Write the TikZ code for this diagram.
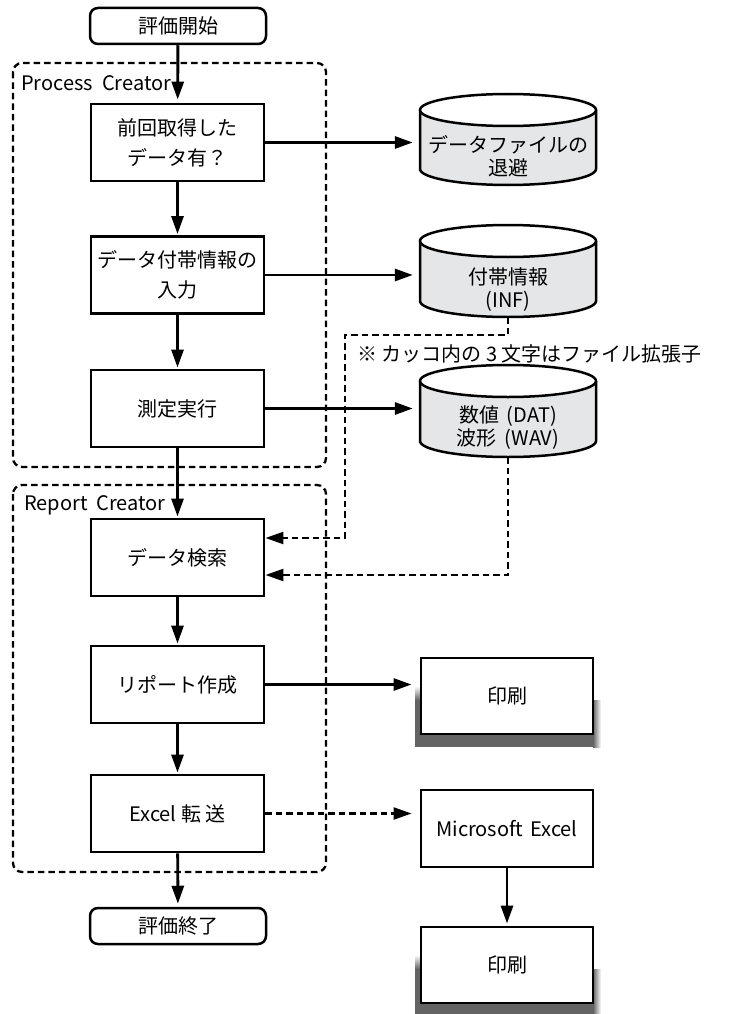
\documentclass[tikz,border=0pt]{standalone}
\usepackage{fontspec}
\setmainfont{Noto Sans CJK JP}
\usetikzlibrary{arrows.meta}
\definecolor{cylgray}{RGB}{229,230,231}
\definecolor{shadowgray}{RGB}{100,100,100}
\begin{document}
\begin{tikzpicture}[x=1pt,y=-1pt,
  txt/.style={font=\fontsize{20}{30}\selectfont, align=center},
  proc/.style={txt, draw, line width=2.9pt, minimum width=173pt, minimum height=77pt, inner sep=0pt},
  term/.style={txt, draw, rounded corners=8pt, line width=2.5pt, minimum width=176pt, minimum height=36pt, inner sep=0pt},
  cyltext/.style={font=\fontsize{20}{23}\selectfont, align=center, minimum width=176pt, inner sep=0pt},
  cylline/.style={line width=2.5pt},
  cont/.style={line width=2.3pt, dash pattern=on 6.5pt off 4pt, rounded corners=9pt},
  arr/.style={line width=2.9pt, -{Triangle[length=18pt,width=12pt]}},
  darr/.style={line width=2.3pt, dash pattern=on 6.5pt off 4pt, -{Triangle[length=18pt,width=12pt]}},
  lbl/.style={font=\fontsize{20}{24}\selectfont, anchor=west, inner sep=0pt}
]
\useasboundingbox (0,0) rectangle (733,1014);
\fill[white] (0,0) rectangle (733,1014);

% containers
\draw[cont] (13,63) rectangle (326,467);
\draw[cont] (13,485) rectangle (326,872);
\node[lbl] (pc) at (21,83) {Process\hspace{0.45em}Creator};
\node[lbl] (rc) at (24,505) {Report\hspace{0.45em}Creator};

% main flow
\node[term] (start) at (178,26) {評価開始};
\node[proc] (b1) at (177.5,142.5) {前回取得した\\データ有？};
\node[proc] (b2) at (177.5,275) {データ付帯情報の\\入力};
\node[proc] (b3) at (177.5,408.5) {測定実行};
\node[proc] (b4) at (177.5,557.5) {データ検索};
\node[proc] (b5) at (177.5,684.5) {リポート作成};
\node[proc] (b6) at (177.5,813.5) {Excel 転 送};
\node[term] (end) at (178,926) {評価終了};

% cylinders
\fill[cylgray] (420,110) -- (420,169) arc[start angle=180,end angle=360,x radius=88pt,y radius=16pt] -- (596,110) -- cycle;
\draw[cylline] (420,110) -- (420,169) arc[start angle=180,end angle=360,x radius=88pt,y radius=16pt] -- (596,110);
\draw[cylline, fill=white] (508,110) ellipse[x radius=88pt, y radius=16pt];
\node[cyltext, minimum height=58pt] (c1) at (508,156) {データファイルの\\退避};

\fill[cylgray] (420,241) -- (420,301) arc[start angle=180,end angle=360,x radius=88pt,y radius=16pt] -- (596,241) -- cycle;
\draw[cylline] (420,241) -- (420,301) arc[start angle=180,end angle=360,x radius=88pt,y radius=16pt] -- (596,241);
\draw[cylline, fill=white] (508,241) ellipse[x radius=88pt, y radius=16pt];
\node[cyltext, minimum height=54pt] (c2) at (508,290) {付帯情報\\(INF)};

\fill[cylgray] (420,381) -- (420,441) arc[start angle=180,end angle=360,x radius=88pt,y radius=16pt] -- (596,381) -- cycle;
\draw[cylline] (420,381) -- (420,441) arc[start angle=180,end angle=360,x radius=88pt,y radius=16pt] -- (596,381);
\draw[cylline, fill=white] (508,381) ellipse[x radius=88pt, y radius=16pt];
\node[cyltext, minimum height=58pt] (c3) at (508,428) {数値\hspace{0.4em}(DAT)\\波形\hspace{0.4em}(WAV)};

\node[lbl] (note) at (357,354) {※ カッコ内の 3 文字はファイル拡張子};

% shadows
\fill[shadowgray] (415,700) rectangle (593,747);
\shade[left color=shadowgray, right color=white] (593,700) rectangle (601,747);
\shade[top color=white, bottom color=shadowgray] (415,686) rectangle (421,700);
\fill[shadowgray] (415,969) rectangle (593,1014);
\shade[left color=shadowgray, right color=white] (593,969) rectangle (601,1014);
\shade[top color=white, bottom color=shadowgray] (415,955) rectangle (421,969);

% right boxes
\node[proc, fill=white, minimum width=172pt, minimum height=76pt] (p1) at (507,696) {印刷};
\node[proc, fill=white, minimum width=172pt] (mx) at (507,828.5) {Microsoft\hspace{0.35em}Excel};
\node[proc, fill=white, minimum width=172pt, minimum height=76pt] (p2) at (507,965) {印刷};

% connectors
\draw[arr, shorten >=3pt] (start) -- (b1);
\draw[arr, shorten >=1pt] (b1) -- (b2);
\draw[arr, shorten >=1pt] (b2) -- (b3);
\draw[arr, shorten >=1pt] (b3) -- (b4);
\draw[arr, shorten >=1pt] (b4) -- (b5);
\draw[arr, shorten >=1pt] (b5) -- (b6);
\draw[arr, shorten >=3pt] (b6) -- (end);

\draw[arr, shorten >=7pt] (b1.east) -- (b1.east -| c1.west);
\draw[arr, shorten >=7pt] (b2.east) -- (b2.east -| c2.west);
\draw[arr, shorten >=7pt] (b3.east) -- (b3.east -| c3.west);
\draw[arr, shorten >=8pt] (b5.east) -- (b5.east -| p1.west);
\draw[darr, shorten >=8pt] (b6.east) -- (b6.east -| mx.west);
\draw[arr, shorten >=2pt] (mx) -- (p2);

\coordinate (j1) at (345,335);
\draw[darr] (c2.south) |- (j1) |- ([yshift=19.5pt]b4.east);
\draw[darr] (c3.south) |- ([yshift=-17.5pt]b4.east);
\end{tikzpicture}
\end{document}
